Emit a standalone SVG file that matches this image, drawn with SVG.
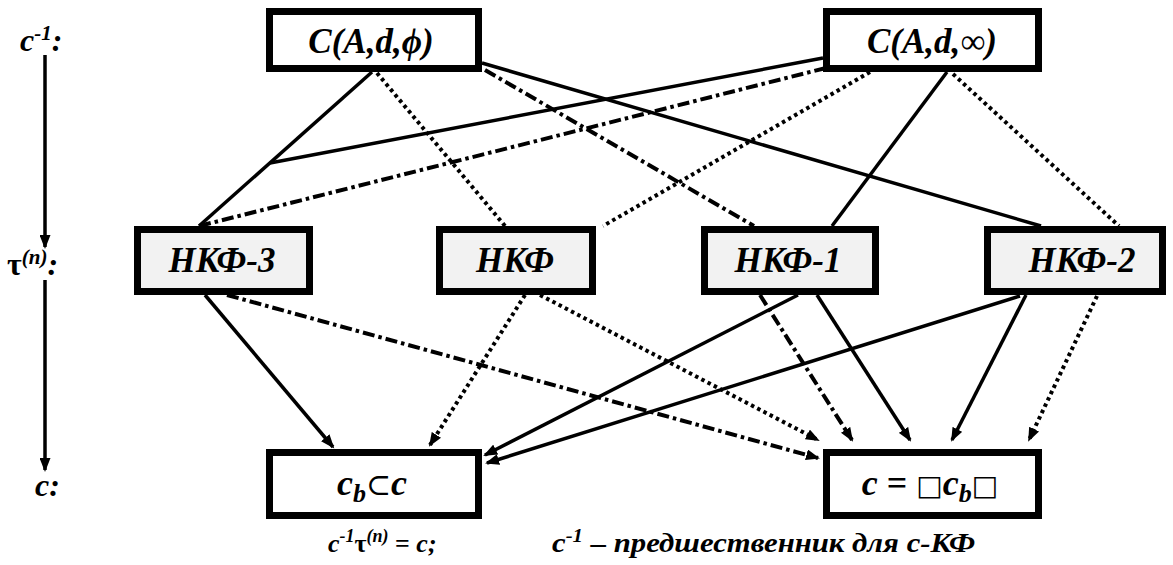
<svg xmlns="http://www.w3.org/2000/svg" width="1173" height="565" viewBox="0 0 1173 565">
<defs>
<marker id="ah" markerWidth="15" markerHeight="11" refX="12" refY="5.5" orient="auto" markerUnits="userSpaceOnUse"><path d="M0,0 L14,5.5 L0,11 z" fill="#000"/></marker>
</defs>
<style>
.t{font-family:"Liberation Serif","DejaVu Serif",serif;font-weight:bold;font-style:italic;fill:#000}
.u{font-style:normal}
.box{stroke:#000;stroke-width:7;fill:#fff}
.gbox{stroke:#000;stroke-width:7;fill:#f2f2f2}
.s{stroke:#000;stroke-width:3.5;fill:none}
.d{stroke:#000;stroke-width:4;stroke-dasharray:3.5 3.5;fill:none}
.dd{stroke:#000;stroke-width:4;stroke-dasharray:12 4 3.5 4;fill:none}
.a{marker-end:url(#ah)}
</style>
<rect width="1173" height="565" fill="#fff"/>
<g id="axis">
<line class="s a" x1="45" y1="55" x2="45" y2="247"/>
<line class="s a" x1="45" y1="280" x2="45" y2="470"/>
<text class="t" x="20" y="51" font-size="32">c<tspan font-size="21" dy="-11">-1</tspan><tspan dy="11">:</tspan></text>
<text class="t" x="7" y="275" font-size="32"><tspan class="u">τ</tspan><tspan font-size="21" dy="-11">(n)</tspan><tspan dy="11">:</tspan></text>
<text class="t" x="35" y="496" font-size="32">c:</text>
</g>
<g id="connectors">
<line class="s" x1="372" y1="72" x2="199" y2="226"/>
<line class="d" x1="377" y1="73" x2="505" y2="226"/>
<line class="s" x1="482" y1="63" x2="1041" y2="226"/>
<line class="dd" x1="485" y1="70" x2="754" y2="226"/>
<line class="s" x1="823" y1="58" x2="270" y2="163"/>
<line class="dd" x1="826" y1="68" x2="199" y2="226"/>
<line class="d" x1="870" y1="72" x2="603" y2="226"/>
<line class="s" x1="947" y1="72" x2="832" y2="226"/>
<line class="d" x1="953" y1="74" x2="1119" y2="226"/>
<line class="s a" x1="205" y1="295" x2="333" y2="447"/>
<line class="dd a" x1="227" y1="295" x2="818" y2="458"/>
<line class="d a" x1="525" y1="295" x2="430" y2="445"/>
<line class="d a" x1="540" y1="295" x2="818" y2="440"/>
<line class="s a" x1="798" y1="295" x2="485" y2="455"/>
<line class="dd a" x1="760" y1="295" x2="852" y2="440"/>
<line class="s a" x1="817" y1="295" x2="910" y2="440"/>
<line class="s a" x1="1020" y1="296" x2="487" y2="463"/>
<line class="s a" x1="1026" y1="295" x2="952" y2="440"/>
<line class="d a" x1="1097" y1="296" x2="1029" y2="440"/>
</g>
<g id="n-c-phi">
<rect class="box" x="269.5" y="11.5" width="209" height="57"/>
<text class="t" x="371" y="53" font-size="35" text-anchor="middle">C(A,d,ϕ)</text>
</g>
<g id="n-c-inf">
<rect class="box" x="826.5" y="11.5" width="212" height="57"/>
<text class="t" x="932" y="53" font-size="35" text-anchor="middle">C(A,d,∞)</text>
</g>
<g id="n-nkf3">
<rect class="gbox" x="137.5" y="229.5" width="172" height="62"/>
<text class="t" x="222" y="272" font-size="35" text-anchor="middle">НКФ-3</text>
</g>
<g id="n-nkf">
<rect class="gbox" x="439.5" y="229.5" width="153" height="62"/>
<text class="t" x="515" y="272" font-size="35" text-anchor="middle">НКФ</text>
</g>
<g id="n-nkf1">
<rect class="gbox" x="704.5" y="229.5" width="171" height="62"/>
<text class="t" x="788" y="272" font-size="35" text-anchor="middle">НКФ-1</text>
</g>
<g id="n-nkf2">
<rect class="gbox" x="987.5" y="229.5" width="175" height="62"/>
<text class="t" x="1082" y="272" font-size="35" text-anchor="middle">НКФ-2</text>
</g>
<g id="n-cb">
<rect class="box" x="269.5" y="452.5" width="209" height="63"/>
<text class="t" x="372" y="495" font-size="36" text-anchor="middle">c<tspan font-size="26" dy="7">b</tspan><tspan class="u" font-family="DejaVu Serif" font-weight="normal" font-size="30" dy="-7">⊂</tspan>c</text>
</g>
<g id="n-c">
<rect class="box" x="826.5" y="452.5" width="212" height="63"/>
<text class="t" x="930" y="495" font-size="36" text-anchor="middle">c<tspan class="u"> = </tspan><tspan class="u" font-family="DejaVu Sans" font-weight="normal" font-size="28">□</tspan>c<tspan font-size="26" dy="7">b</tspan><tspan class="u" font-family="DejaVu Sans" font-weight="normal" font-size="28" dy="-7">□</tspan></text>
</g>
<g id="caption">
<text class="t" x="328" y="552" font-size="26">c<tspan font-size="18" dy="-10">-1</tspan><tspan class="u" dy="10">τ</tspan><tspan font-size="18" dy="-10">(n)</tspan><tspan dy="10" class="u"> = </tspan>c;</text>
<text class="t" x="552" y="552" font-size="28" textLength="423" lengthAdjust="spacingAndGlyphs">c<tspan font-size="19" dy="-10">-1</tspan><tspan dy="10"> – предшественник для c-КФ</tspan></text>
</g>
</svg>
